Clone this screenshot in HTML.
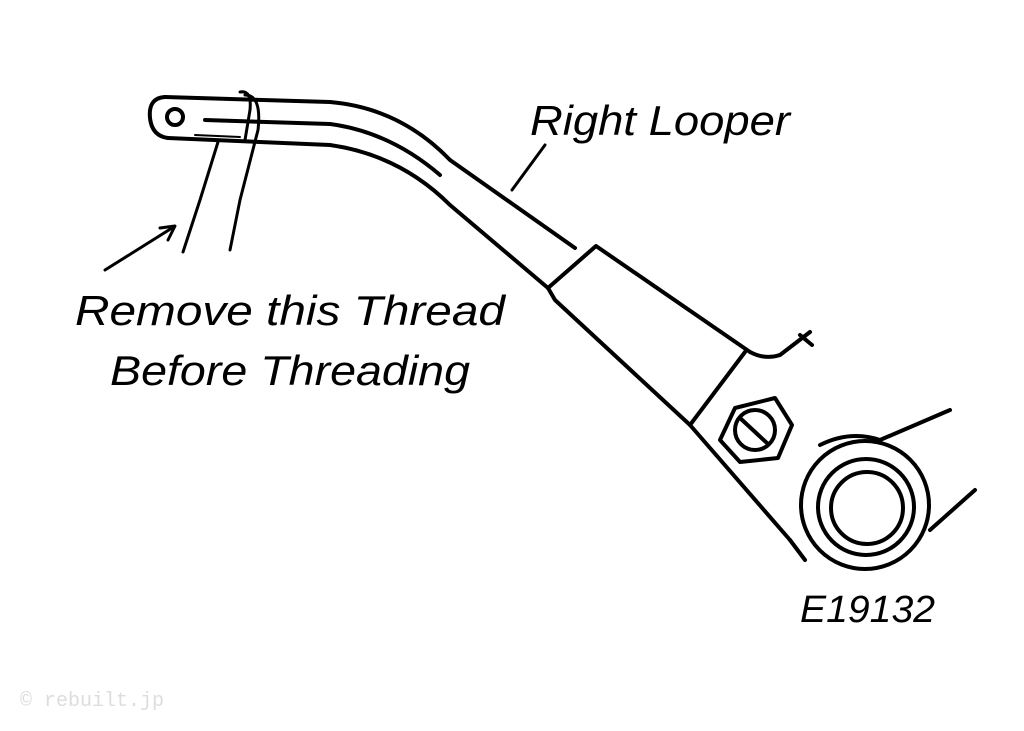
<!DOCTYPE html>
<html><head><meta charset="utf-8"><style>
html,body{margin:0;padding:0;background:#fff;}
svg{display:block;}
</style></head><body>
<svg width="1024" height="731" viewBox="0 0 1024 731" xmlns="http://www.w3.org/2000/svg">
<g fill="none" stroke="#000" stroke-width="4" stroke-linecap="round" stroke-linejoin="round">
<path d="M165 97 L330 102 Q400 108 450 160 L575 248"/>
<path d="M205 120 L330 124 Q390 132 440 175"/>
<path d="M168 138 L330 145 Q400 155 450 205 L548 288"/>
<path d="M165 97 Q148 98 150 118 Q152 136 168 138"/>
<circle cx="175" cy="117" r="8"/>
<path d="M190 97 L240 99 M195 135 L240 137" stroke-width="2"/>
<path d="M548 288 L596 246 L750 352"/>
<path d="M548 288 L555 300 L690 425 L790 540"/>
<path d="M750 352 Q765 360 780 355 L810 332"/>
<path d="M800 335 L812 345" />
<path d="M745 352 L690 425"/>
<polygon points="735,408 775,398 792,425 778,458 740,462 720,440"/>
<circle cx="755" cy="430" r="20"/>
<path d="M740 418 L768 444"/>
<circle cx="865" cy="505" r="64"/>
<circle cx="866" cy="507" r="48"/>
<circle cx="867" cy="508" r="36"/>
<path d="M820 445 Q850 430 880 440 L950 410"/>
<path d="M930 530 L975 490"/>
<path d="M790 540 L805 560"/>
<path d="M218 142 L200 200 L183 252" stroke-width="3"/>
<path d="M245 95 Q262 95 258 130 L240 200 L230 250" stroke-width="3"/>
<path d="M240 92 Q252 90 250 110 L245 140" stroke-width="3"/>
<path d="M105 270 L172 228" stroke-width="3"/>
<path d="M160 228 L175 226 L168 240" stroke-width="3"/>
<path d="M512 190 L545 145" stroke-width="3"/>
</g>
<g font-family="'Liberation Sans',sans-serif" font-style="italic" fill="#000">
<text x="530" y="135" font-size="42" textLength="260" lengthAdjust="spacingAndGlyphs">Right Looper</text>
<text x="75" y="325" font-size="42" textLength="430" lengthAdjust="spacingAndGlyphs">Remove this Thread</text>
<text x="110" y="385" font-size="42" textLength="360" lengthAdjust="spacingAndGlyphs">Before Threading</text>
<text x="800" y="622" font-size="38" textLength="135" lengthAdjust="spacingAndGlyphs">E19132</text>
</g>
<text x="20" y="706" font-family="'Liberation Mono',monospace" font-size="20" fill="#ddd">© rebuilt.jp</text>
</svg>
</body></html>
